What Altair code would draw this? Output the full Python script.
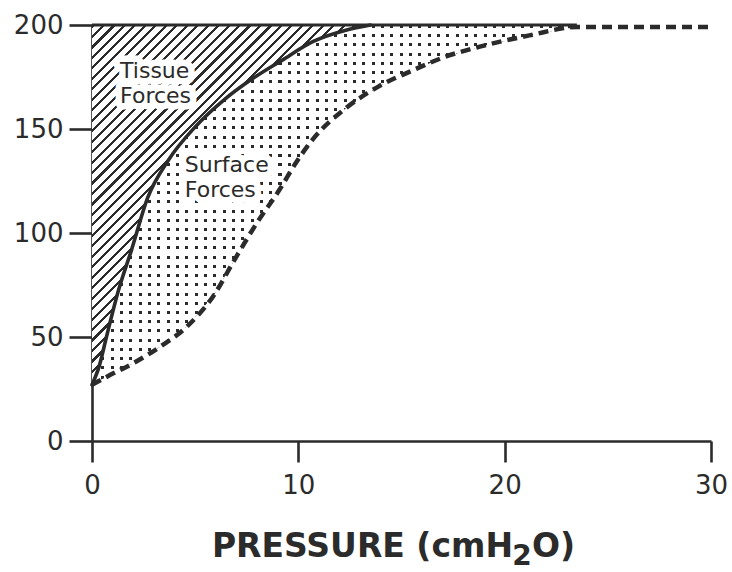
import numpy as np
import pandas as pd
import altair as alt

# Pressure-volume curves: saline-filled lung (solid) vs air-filled lung (dashed)
pressure_saline = [0, 0.35, 0.7, 1.27, 1.92, 2.7, 3.7, 5.0, 6.4, 7.75, 9.2, 10.7, 12.3, 13.5]
volume_saline = [27, 36, 50, 72, 92, 117, 135, 151, 164, 174, 183, 192, 197.5, 200]

pressure_air = [0, 0.87, 2.0, 3.3, 4.6, 5.9, 6.9, 8.0, 9.1, 9.9, 10.7, 12.3,
                13.9, 15.5, 17.2, 18.8, 21.2, 23.5, 30]
volume_air = [27, 31.7, 37.4, 45.3, 55, 70, 87, 105, 121, 134, 145, 160,
              170.5, 178, 185, 189.6, 195, 199, 199]

x_ticks = [0, 10, 20, 30]
y_ticks = [0, 50, 100, 150, 200]

label_text = ["Tissue", "Forces", "Surface", "Forces"]
label_x = [1.36, 1.36, 4.5, 4.5]
label_y = [174.5, 162.5, 129.3, 117.3]

X_MAX, Y_MAX = 30, 200
W_PLOT, H_PLOT = 619, 416
INK = "#2b2b2b"

# ---- region tables -------------------------------------------------------
tissue = pd.DataFrame({"v": volume_saline, "x0": 0.0, "x1": pressure_saline})

air_v = volume_air[:-1]
air_p = pressure_air[:-1]
v_grid = sorted(set(volume_saline) | set(air_v) | {Y_MAX})
surface = pd.DataFrame({
    "v": v_grid,
    "x0": np.interp(v_grid, volume_saline, pressure_saline),
    "x1": np.interp(v_grid, air_v, air_p),
})

saline = pd.DataFrame({"p": pressure_saline, "v": volume_saline})
air = pd.DataFrame({"p": pressure_air, "v": volume_air})
top = pd.DataFrame({"x": [0.0], "x2": [air_p[-1]], "v": [Y_MAX]})
labels = pd.DataFrame({"x": label_x, "v": label_y, "t": label_text})


# ---- stripe gradients used as fill textures -------------------------------
def stripes(n, duty, on, off):
    stops = []
    for k in range(n):
        a = round(k / n, 6)
        b = round((k + duty) / n, 6)
        c = round((k + 1) / n, 6)
        stops += [{"offset": a, "color": on}, {"offset": b, "color": on},
                  {"offset": b, "color": off}, {"offset": c, "color": off}]
    return stops


v_lo = min(volume_saline)
h_reg = (Y_MAX - v_lo) / Y_MAX * H_PLOT

# diagonal hatching for the tissue region (45 degree lines in screen space)
w_t = max(pressure_saline) / X_MAX * W_PLOT
s = (w_t + h_reg) / (w_t ** 2 + h_reg ** 2)
hatch_len = (w_t + h_reg) / np.sqrt(2)
hatch_period = 7.4
hatch = {
    "gradient": "linear",
    "x1": 0, "y1": 0, "x2": w_t * s, "y2": h_reg * s,
    "stops": stripes(int(round(hatch_len / hatch_period)), 2.2 / hatch_period, INK, "white"),
}

# dot screen for the surface region: dark columns masked by white rows
w_s = max(air_p) / X_MAX * W_PLOT
dot_period = 9.3
dot_cols = {
    "gradient": "linear", "x1": 0, "y1": 0, "x2": 1, "y2": 0,
    "stops": stripes(int(round(w_s / dot_period)), 3.0 / dot_period, INK, "white"),
}
dot_rows = {
    "gradient": "linear", "x1": 0, "y1": 0, "x2": 0, "y2": 1,
    "stops": stripes(int(round(h_reg / dot_period)), 3.0 / dot_period,
                     "rgba(255,255,255,0)", "white"),
}

# ---- scales and axes -----------------------------------------------------
x_scale = alt.Scale(domain=[0, X_MAX], nice=False, zero=False)
y_scale = alt.Scale(domain=[0, Y_MAX], nice=False, zero=False)
axis_common = dict(
    grid=False, title=None, domainColor=INK, domainWidth=2.6, tickColor=INK,
    tickWidth=2.6, labelFont="DejaVu Sans", labelFontSize=26, labelColor=INK,
    labelFlush=False, labelOverlap=False, labelBound=False,
)
x_axis = alt.Axis(values=x_ticks, tickSize=21, labelPadding=10, **axis_common)
y_axis = alt.Axis(values=y_ticks, tickSize=23, labelPadding=6, **axis_common)


def X(field):
    return alt.X(field, type="quantitative", scale=x_scale, axis=x_axis)


def Y(field):
    return alt.Y(field, type="quantitative", scale=y_scale, axis=y_axis)


tissue_area = alt.Chart(tissue).mark_area(orient="horizontal", fill=hatch, strokeWidth=0).encode(
    y=Y("v"), x=X("x0"), x2="x1"
)
surface_cols = alt.Chart(surface).mark_area(orient="horizontal", fill=dot_cols, strokeWidth=0).encode(
    y=Y("v"), x=X("x0"), x2="x1"
)
surface_rows = alt.Chart(surface).mark_area(orient="horizontal", fill=dot_rows, strokeWidth=0).encode(
    y=Y("v"), x=X("x0"), x2="x1"
)

label_halo = alt.Chart(labels).mark_text(
    align="left", baseline="alphabetic", font="DejaVu Sans", fontSize=22,
    fill="white", stroke="white", strokeWidth=13, strokeJoin="round",
).encode(x=X("x"), y=Y("v"), text="t:N")
label_ink = alt.Chart(labels).mark_text(
    align="left", baseline="alphabetic", font="DejaVu Sans", fontSize=22, fill=INK,
).encode(x=X("x"), y=Y("v"), text="t:N")

top_rule = alt.Chart(top).mark_rule(color=INK, strokeWidth=3).encode(
    x=X("x"), x2="x2", y=Y("v")
)
saline_line = alt.Chart(saline).mark_line(
    color=INK, strokeWidth=3.6, interpolate="monotone", strokeCap="round"
).encode(x=X("p"), y=Y("v"))
air_line = alt.Chart(air).mark_line(
    color=INK, strokeWidth=4.5, interpolate="monotone", strokeDash=[10, 6], strokeCap="butt"
).encode(x=X("p"), y=Y("v"))

# axis title with a lowered subscript
title_font = dict(font="DejaVu Sans", fontWeight="bold", color=INK)
title_main = alt.Chart(pd.DataFrame({"t": ["PRESSURE (cmH"]})).mark_text(
    align="right", baseline="alphabetic", fontSize=33, **title_font
).encode(x=alt.value(421), y=alt.value(532), text="t:N")
title_sub = alt.Chart(pd.DataFrame({"t": ["2"]})).mark_text(
    align="center", baseline="alphabetic", fontSize=28, **title_font
).encode(x=alt.value(430), y=alt.value(540), text="t:N")
title_end = alt.Chart(pd.DataFrame({"t": ["O)"]})).mark_text(
    align="left", baseline="alphabetic", fontSize=33, **title_font
).encode(x=alt.value(440), y=alt.value(532), text="t:N")

chart = alt.layer(
    tissue_area, surface_cols, surface_rows, label_halo, label_ink,
    top_rule, saline_line, air_line, title_main, title_sub, title_end,
).properties(
    width=W_PLOT, height=H_PLOT,
    padding={"left": 92, "top": 25, "right": 21, "bottom": 131},
    autosize=alt.AutoSizeParams(type="none"),
    background="white",
).configure_view(stroke=None)

chart.save("out.html", embed_options={"renderer": "svg", "actions": False})
